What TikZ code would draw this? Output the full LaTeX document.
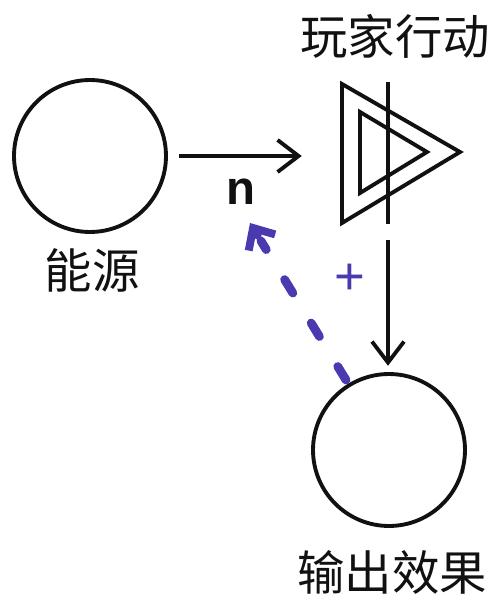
\documentclass[tikz,border=0pt]{standalone}
\usepackage{fontspec}
\setmainfont{Noto Sans}
\newfontfamily\cjk{Noto Sans CJK SC}
\newfontfamily\markfont{Liberation Sans}
\usetikzlibrary{arrows.meta}
\definecolor{ink}{HTML}{111111}
\definecolor{feedback}{HTML}{4A3AB0}

\tikzset{
  pool/.style={draw=ink, circle, line width=2.2pt, minimum size=3.04cm, inner sep=0},
  caption/.style={font=\cjk\fontsize{27}{30}\selectfont, text=ink},
  flow/.style={-{Straight Barb[length=0.42cm, width=0.64cm, line width=2.2pt]},
    line width=2.2pt, color=ink, shorten >=-1pt},
  modifier/.style={color=feedback, line width=5pt, line cap=round},
}

\begin{document}
\begin{tikzpicture}[x=0.02cm, y=-0.02cm]
    \useasboundingbox (0,0) rectangle (496,597);
    % resources
    \node[pool] (energy) at (90,156) {};
    \node[caption] (energyLbl) at (92,270) {能源};
    \node[pool] (output) at (389,450) {};
    \node[caption] (outputLbl) at (392,572) {输出效果};
    % player action gate
    \coordinate (gate) at (388,152);
    \node[caption] (gateLbl) at (395,36) {玩家行动};
    \draw[line width=2.2pt, color=ink, line join=miter]
      (342,84) -- (460,152) -- (342,223) -- cycle;
    \draw[line width=2.2pt, color=ink, line join=miter]
      (360,112) -- (427,152) -- (360,193) -- cycle;
    \draw[line width=2.2pt, color=ink] (388,82) -- (388,224);
    % connections
    \coordinate (gateIn) at (300,156);
    \coordinate (gateOut) at (388,240);
    \coordinate (outputTop) at (388,364);
    \draw[flow] (energy.east) ++(11,0) -- (gateIn);
    \draw[flow] (gateOut) -- (outputTop);
    \node[font=\markfont\bfseries\fontsize{27}{30}\selectfont, text=ink] (rateLbl) at (241,192) {n};
    \coordinate (modTip) at (250,223);
    \coordinate (modTail) at (346,380);
    \draw[modifier, dash pattern=on 9pt off 20pt, shorten >=12pt] (modTail) -- (modTip);
    \draw[modifier, shorten <=3.4cm,
      -{Straight Barb[length=0.34cm, width=0.62cm, line width=4.5pt]}]
      (modTail) -- (modTip);
    \node[font=\markfont\fontsize{30}{32}\selectfont, text=feedback] (signLbl) at (350,279) {+};
\end{tikzpicture}
\end{document}
